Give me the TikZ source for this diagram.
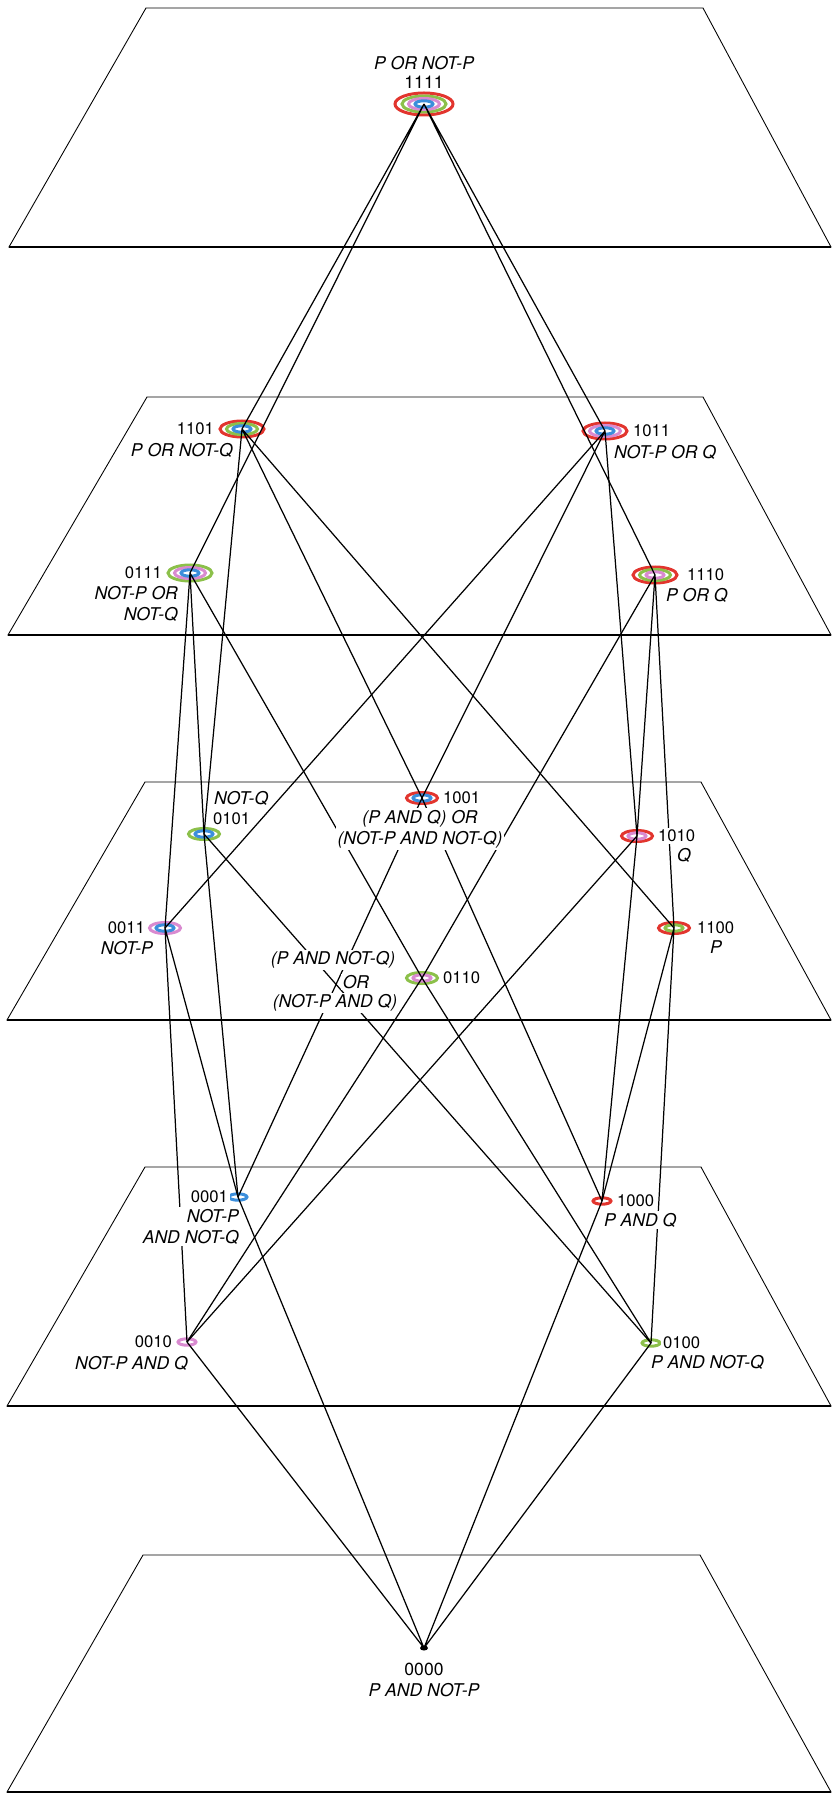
\documentclass[tikz,border=0pt]{standalone}
\usepackage{fontspec}
\setmainfont{TeX Gyre Heros}
\definecolor{ringred}{HTML}{E2352E}
\definecolor{ringgreen}{HTML}{8CC04A}
\definecolor{ringpink}{HTML}{D98AD0}
\definecolor{ringblue}{HTML}{3B8EDB}

\begin{document}
\begin{tikzpicture}[x=0.2mm, y=-0.2mm,
    plane/.style={line width=0.5pt},
    rim/.style={line width=1.4pt},
    edge/.style={line width=0.7pt},
    bits/.style={font=\fontsize{9.5}{11}\selectfont, fill=white, inner sep=1pt},
    prop/.style={font=\fontsize{10}{12}\selectfont\itshape, fill=white, inner sep=1pt},
    rred/.style={draw=ringred, line width=0.6mm},
    rgreen/.style={draw=ringgreen, line width=0.6mm},
    rpink/.style={draw=ringpink, line width=0.6mm},
    rblue/.style={draw=ringblue, line width=0.6mm},
    r1/.style={x radius=9, y radius=3.2},
    r2/.style={x radius=15.5, y radius=5.5},
    r3/.style={x radius=22, y radius=8},
    r4/.style={x radius=29, y radius=11}
]
\useasboundingbox (0,0) rectangle (832,1794);

% the five planes
\draw[plane] (146,8) -- (703,8) -- (831,247) -- (9,247) -- cycle;
\draw[rim] (9,247) -- (831,247);
\draw[plane] (147,397) -- (703,397) -- (831,635) -- (8,635) -- cycle;
\draw[rim] (8,635) -- (831,635);
\draw[plane] (145,782) -- (701,782) -- (831,1020) -- (7,1020) -- cycle;
\draw[rim] (7,1020) -- (831,1020);
\draw[plane] (145,1167) -- (701,1167) -- (831,1406) -- (7,1406) -- cycle;
\draw[rim] (7,1406) -- (831,1406);
\draw[plane] (143,1555) -- (700,1555) -- (831,1792) -- (7,1792) -- cycle;
\draw[rim] (7,1792) -- (831,1792);

% propositions
\coordinate (n1111) at (424,104);
\coordinate (n1101) at (242,429);
\coordinate (n1011) at (605,431);
\coordinate (n0111) at (190,573);
\coordinate (n1110) at (655,575);
\coordinate (n1001) at (422,798);
\coordinate (n0101) at (204,834);
\coordinate (n1010) at (637,836);
\coordinate (n0011) at (165,928);
\coordinate (n1100) at (674,928);
\coordinate (n0110) at (422,978);
\coordinate (n0001) at (238,1197);
\coordinate (n1000) at (602,1201);
\coordinate (n0010) at (187,1342);
\coordinate (n0100) at (651,1343);
\coordinate (n0000) at (424,1648);

% rings: red = P AND Q, green = P AND NOT-Q, pink = NOT-P AND Q, blue = NOT-P AND NOT-Q
\draw[rred] (n1111) ellipse [r4] (n1101) ellipse [r3] (n1011) ellipse [r3] (n1110) ellipse [r3]
    (n1001) ellipse [r2] (n1010) ellipse [r2] (n1100) ellipse [r2] (n1000) ellipse [r1];
\draw[rgreen] (n1111) ellipse [r3] (n0111) ellipse [r3] (n1101) ellipse [r2] (n1110) ellipse [r2]
    (n0110) ellipse [r2] (n0101) ellipse [r2] (n1100) ellipse [r1] (n0100) ellipse [r1];
\draw[rpink] (n1111) ellipse [r2] (n1011) ellipse [r2] (n0111) ellipse [r2] (n0011) ellipse [r2]
    (n1110) ellipse [r1] (n1010) ellipse [r1] (n0110) ellipse [r1] (n0010) ellipse [r1];
\draw[rblue] (n1111) ellipse [r1] (n1101) ellipse [r1] (n1011) ellipse [r1] (n0111) ellipse [r1]
    (n1001) ellipse [r1] (n0101) ellipse [r1] (n0011) ellipse [r1] (n0001) ellipse [r1];
\fill (n0000) ellipse [x radius=4, y radius=2.5];

% implications
\draw[edge] (n1111) -- (n1101) (n1111) -- (n1011) (n1111) -- (n0111) (n1111) -- (n1110);
\draw[edge] (n1101) -- (n1100) (n1101) -- (n1001) (n1101) -- (n0101);
\draw[edge] (n1011) -- (n1010) (n1011) -- (n1001) (n1011) -- (n0011);
\draw[edge] (n0111) -- (n0110) (n0111) -- (n0101) (n0111) -- (n0011);
\draw[edge] (n1110) -- (n1100) (n1110) -- (n1010) (n1110) -- (n0110);
\draw[edge] (n1100) -- (n1000) (n1100) -- (n0100);
\draw[edge] (n1010) -- (n1000) (n1010) -- (n0010);
\draw[edge] (n1001) -- (n1000) (n1001) -- (n0001);
\draw[edge] (n0110) -- (n0100) (n0110) -- (n0010);
\draw[edge] (n0101) -- (n0100) (n0101) -- (n0001);
\draw[edge] (n0011) -- (n0010) (n0011) -- (n0001);
\draw[edge] (n1000) -- (n0000) (n0100) -- (n0000) (n0010) -- (n0000) (n0001) -- (n0000);

% labels
\node[prop] (p1111) at (424,63) {P OR NOT-P};
\node[bits, font=\fontsize{10}{12}\selectfont] (l1111) at (424,82) {1111};
\node[bits, anchor=east] (l1101) at (216,429) {1101};
\node[prop, anchor=east] (p1101) at (235,450) {P OR NOT-Q};
\node[bits, anchor=west] (l1011) at (631,431) {1011};
\node[prop, anchor=west] (p1011) at (612,452) {NOT-P OR Q};
\node[bits, anchor=east] (l0111) at (164,573) {0111};
\node[prop, anchor=north east, align=right] (p0111) at (180,584) {NOT-P OR\\NOT-Q};
\node[bits, anchor=west] (l1110) at (685,575) {1110};
\node[prop, anchor=west] (p1110) at (664,595) {P OR Q};
\node[prop, anchor=west] (p0101) at (212,798) {NOT-Q};
\node[bits, anchor=west] (l0101) at (211,819) {0101};
\node[bits, anchor=west] (l1001) at (441,798) {1001};
\node[prop, anchor=north, align=center] (p1001) at (420,808) {(P AND Q) OR\\(NOT-P AND NOT-Q)};
\node[bits, anchor=west] (l1010) at (656,836) {1010};
\node[prop, anchor=west] (p1010) at (675,855) {Q};
\node[bits, anchor=east] (l0011) at (147,928) {0011};
\node[prop, anchor=east] (p0011) at (155,948) {NOT-P};
\node[bits, anchor=west] (l1100) at (695,928) {1100};
\node[prop] (p1100) at (716,947) {P};
\node[bits, anchor=west] (l0110) at (441,978) {0110};
\node[prop] (p0110a) at (333,960) {(P AND NOT-Q)};
\node[prop] (p0110b) at (356,982) {OR};
\node[prop] (p0110c) at (335,1003) {(NOT-P AND Q)};
\node[bits, anchor=east] (l0001) at (230,1197) {0001};
\node[prop, anchor=north east, align=right] (p0001) at (241,1207) {NOT-P\\AND NOT-Q};
\node[bits, anchor=west] (l1000) at (615,1201) {1000};
\node[prop, anchor=west] (p1000) at (602,1220) {P AND Q};
\node[bits, anchor=east] (l0010) at (174,1342) {0010};
\node[prop, anchor=east] (p0010) at (190,1363) {NOT-P AND Q};
\node[bits, anchor=west] (l0100) at (661,1343) {0100};
\node[prop, anchor=west] (p0100) at (649,1362) {P AND NOT-Q};
\node[bits, font=\fontsize{10}{12}\selectfont] (l0000) at (424,1669) {0000};
\node[prop] (p0000) at (424,1690) {P AND NOT-P};
\end{tikzpicture}
\end{document}
